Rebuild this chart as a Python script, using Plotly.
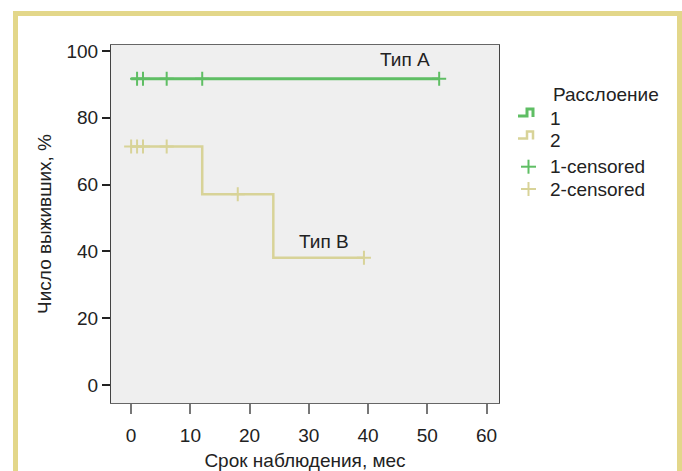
import plotly.graph_objects as go

# ---- data ----
x_ticks = [0, 10, 20, 30, 40, 50, 60]
y_ticks = [0, 20, 40, 60, 80, 100]

g1_times = [0, 52]
g1_surv = [91.7, 91.7]
g1_cens_t = [1, 2, 6, 12, 52]
g1_cens_s = [91.7, 91.7, 91.7, 91.7, 91.7]

g2_times = [0, 12, 24, 39.3]
g2_surv = [71.4, 57.1, 38.1, 38.1]
g2_cens_t = [0, 1, 2, 6, 18, 39.3]
g2_cens_s = [71.4, 71.4, 71.4, 71.4, 57.1, 38.1]

labels = ["Тип А", "Тип В"]
label_x = [46.3, 32.5]
label_y = [97.5, 43]

legend_title = "Расслоение"
legend_items = ["1", "2", "1-censored", "2-censored"]

GREEN = "#5fbe64"
TAN = "#d8d398"
FONT = "Liberation Sans, Arial, sans-serif"
FS = 19

fig = go.Figure()
fig.add_trace(go.Scatter(x=g1_times, y=g1_surv, mode="lines", line=dict(color=GREEN, width=3, shape="hv"), showlegend=False))
fig.add_trace(go.Scatter(x=g2_times, y=g2_surv, mode="lines", line=dict(color=TAN, width=2.5, shape="hv"), showlegend=False))
fig.add_trace(go.Scatter(x=g1_cens_t, y=g1_cens_s, mode="markers",
                         marker=dict(symbol="cross-thin", size=10, line=dict(color=GREEN, width=2)), showlegend=False))
fig.add_trace(go.Scatter(x=g2_cens_t, y=g2_cens_s, mode="markers",
                         marker=dict(symbol="cross-thin", size=10, line=dict(color=TAN, width=2)), showlegend=False))

for t, lx, ly in zip(labels, label_x, label_y):
    fig.add_annotation(x=lx, y=ly, text=t, showarrow=False, font=dict(size=FS, color="#222"))

# plot area geometry in pixels (for converting decoration to paper coords)
W, H = 682, 471
L, R, T, B = 111, 499, 45, 403
def px(xp):
    return (xp - L) / (R - L)
def py(yp):
    return (B - yp) / (B - T)

# outer frame
fig.add_shape(type="rect", xref="paper", yref="paper", x0=px(15.5), x1=px(679.5), y0=py(485), y1=py(13.5),
              line=dict(color="#e3d78a", width=5), fillcolor="rgba(0,0,0,0)", layer="below")

# custom legend
fig.add_annotation(xref="paper", yref="paper", x=px(551), y=py(94), xanchor="left", yanchor="middle",
                   text=legend_title, showarrow=False, font=dict(size=FS, color="#222"))
item_y = [118, 140.5, 166.7, 189]
for txt, yy in zip(legend_items, item_y):
    fig.add_annotation(xref="paper", yref="paper", x=px(548), y=py(yy), xanchor="left", yanchor="middle",
                       text=txt, showarrow=False, font=dict(size=FS, color="#222"))
for col, yy, w in [(GREEN, item_y[0], 3), (TAN, item_y[1], 2.5)]:
    path = "M {},{} L {},{} L {},{} L {},{} L {},{}".format(
        px(518), py(yy - 2), px(527), py(yy - 2), px(527), py(yy - 9), px(533), py(yy - 9), px(533), py(yy - 1))
    fig.add_shape(type="path", xref="paper", yref="paper", path=path, line=dict(color=col, width=w))
for col, yy in [(GREEN, item_y[2]), (TAN, item_y[3])]:
    fig.add_shape(type="line", xref="paper", yref="paper", x0=px(521), x1=px(536), y0=py(yy), y1=py(yy),
                  line=dict(color=col, width=2))
    fig.add_shape(type="line", xref="paper", yref="paper", x0=px(528.5), x1=px(528.5), y0=py(yy - 7), y1=py(yy + 7),
                  line=dict(color=col, width=2))

fig.update_layout(
    width=W, height=H,
    margin=dict(l=L, r=W - R, t=T, b=H - B, autoexpand=False),
    paper_bgcolor="white", plot_bgcolor="#efefef",
    font=dict(family=FONT, size=FS, color="#222"),
    showlegend=False,
)
fig.update_xaxes(range=[-3.4, 62.1], tickvals=x_ticks, ticks="outside", ticklen=10, tickwidth=2, tickcolor="#777",
                 ticklabelstandoff=5, automargin=False,
                 showline=True, linecolor="#666", linewidth=1, mirror=True, showgrid=False, zeroline=False,
                 title=dict(text="Срок наблюдения, мес", standoff=8, font=dict(size=FS)))
fig.update_yaxes(range=[-5.4, 101.8], tickvals=y_ticks, ticks="outside", ticklen=8, tickwidth=2, tickcolor="#222",
                 automargin=False,
                 showline=True, linecolor="#444", linewidth=1, mirror=True, showgrid=False, zeroline=False,
                 title=dict(text="Число выживших, %", standoff=9, font=dict(size=FS)))

fig.write_html("out.html", config={"displayModeBar": False}, post_script="document.body.style.margin='0';")
